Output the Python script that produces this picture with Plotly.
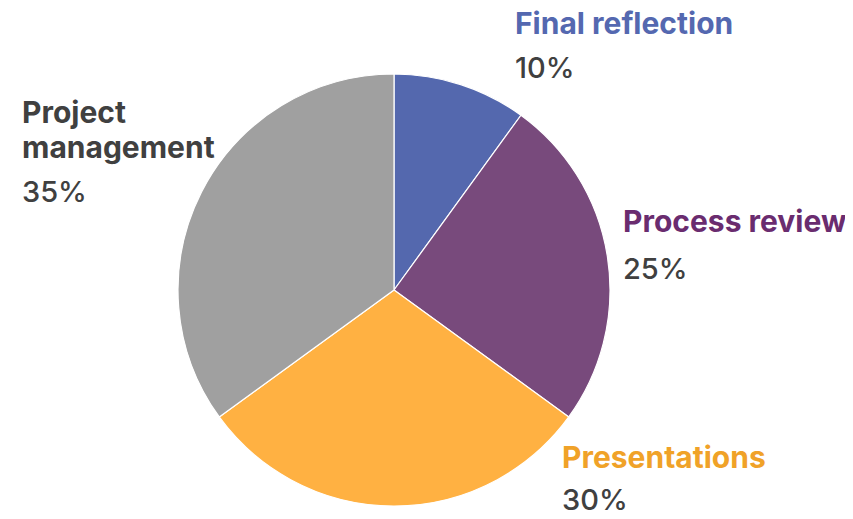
import plotly.graph_objects as go

labels = ["Final reflection", "Process review", "Presentations", "Project management"]
values = [10, 25, 30, 35]
slice_colors = ["#5468AE", "#784A7C", "#FFB142", "#A0A0A0"]
title_colors = ["#5468B0", "#6A2C6F", "#F0A228", "#404040"]
title_lines = [["Final reflection"], ["Process review"], ["Presentations"], ["Project", "management"]]

W, H = 853, 519
OFF = 8  # page body margin
cx, cy, r = 394 - OFF, 290 - OFF, 216

fig = go.Figure(go.Pie(
    labels=labels, values=values, sort=False, direction="clockwise", rotation=0,
    marker=dict(colors=slice_colors, line=dict(color="white", width=1.2)),
    textinfo="none", hoverinfo="label+percent", showlegend=False,
    domain=dict(x=[(cx - r) / W, (cx + r) / W], y=[(H - cy - r) / H, (H - cy + r) / H]),
))

# label positions in reference pixels: left x, title line centers, percent center
pos = [
    (515, [23], 68),
    (623, [221], 268),
    (562, [457], 499),
    (22, [112, 147], 191),
]
ann = []
for i, lab in enumerate(labels):
    x0, tys, py = pos[i]
    for line, ty in zip(title_lines[i], tys):
        ann.append(dict(x=(x0 - OFF - 2) / W, y=1 - (ty - OFF) / H, xref="paper", yref="paper",
                        xanchor="left", yanchor="middle",
                        text=line, showarrow=False, align="left",
                        font=dict(family="Inter", size=30, weight=700, color=title_colors[i])))
    ann.append(dict(x=(x0 - OFF - 2) / W, y=1 - (py - OFF) / H, xref="paper", yref="paper",
                    xanchor="left", yanchor="middle",
                    text=f"{values[i]}%", showarrow=False, align="left",
                    font=dict(family="Inter", size=29, weight=500, color="#404040")))

fig.update_layout(width=W, height=H, margin=dict(l=0, r=0, t=0, b=0),
                  paper_bgcolor="white", plot_bgcolor="white", annotations=ann)
fig.write_html("out.html")
